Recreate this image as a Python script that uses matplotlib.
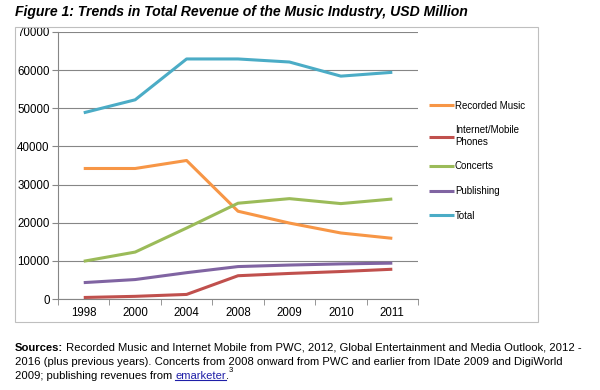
import numpy as np
import matplotlib.pyplot as plt
from matplotlib.patches import Rectangle
from matplotlib.lines import Line2D

plt.rcParams['font.family'] = ['Liberation Sans', 'DejaVu Sans']

years = ['1998', '2000', '2004', '2008', '2009', '2010', '2011']
recorded = [34200, 34200, 36300, 23000, 19900, 17300, 15900]
internet = [400, 700, 1200, 6100, 6700, 7200, 7800]
concerts = [9900, 12300, 18600, 25100, 26300, 25000, 26200]
publishing = [4300, 5100, 6900, 8500, 8900, 9200, 9400]
total = [48800, 52200, 62900, 62900, 62100, 58400, 59400]

series = [('Recorded Music', recorded, '#F79646'),
          ('Internet/Mobile\nPhones', internet, '#C0504D'),
          ('Concerts', concerts, '#9BBB59'),
          ('Publishing', publishing, '#8064A2'),
          ('Total', total, '#4BACC6')]

fig = plt.figure(figsize=(6, 3.9), dpi=100)
ax = fig.add_axes([0.0967, 0.2333, 0.6, 0.685])

x = np.arange(len(years))
for name, vals, col in series:
    ax.plot(x, vals, color=col, lw=2.2, solid_capstyle='butt', label=name)

ax.set_xlim(-0.5, len(years) - 0.5)
ax.set_ylim(0, 70000)
ax.set_yticks(np.arange(0, 70001, 10000))
ax.set_xticks(x)
ax.set_xticklabels(years)
ax.set_xticks(np.arange(-0.5, len(years), 1), minor=True)
ax.tick_params(axis='x', which='major', length=0, labelsize=8.3, pad=6)
ax.tick_params(axis='x', which='minor', length=4, color='#868686', direction='out')
ax.tick_params(axis='y', length=4, color='#868686', labelsize=8.3, pad=2)
ax.grid(axis='y', color='#868686', lw=0.8)
ax.set_axisbelow(True)
for s in ['top', 'right']:
    ax.spines[s].set_visible(False)
for s in ['left', 'bottom']:
    ax.spines[s].set_color('#868686')
    ax.spines[s].set_linewidth(0.8)

leg = ax.legend(loc='upper left', bbox_to_anchor=(1.005, 0.775), frameon=False,
                fontsize=7.0, handlelength=2.6, handletextpad=0.1,
                labelspacing=1.5)

# chart border
fig.patches.append(Rectangle((0.025, 0.174), 0.872, 0.757, transform=fig.transFigure,
                             fill=False, ec='#BFBFBF', lw=0.8))

fig.text(0.025, 0.968, 'Figure 1: Trends in Total Revenue of the Music Industry, USD Million',
         fontsize=10.1, fontweight='bold', fontstyle='italic', va='center')

# sources footnote
fig.canvas.draw()
r = fig.canvas.get_renderer()
fs = 8.1
y1, y2, y3 = 1 - 348 / 390, 1 - 362 / 390, 1 - 376 / 390
t = fig.text(0.025, y1, 'Sources:', fontsize=fs, fontweight='bold', va='center')
bb = t.get_window_extent(r)
fig.text(bb.x1 / 600, y1, ' Recorded Music and Internet Mobile from PWC, 2012, Global Entertainment and Media Outlook, 2012 -',
         fontsize=fs, va='center')
fig.text(0.025, y2, '2016 (plus previous years). Concerts from 2008 onward from PWC and earlier from IDate 2009 and DigiWorld',
         fontsize=fs, va='center')
t = fig.text(0.025, y3, '2009; publishing revenues from ', fontsize=fs, va='center')
bb = t.get_window_extent(r)
t2 = fig.text(bb.x1 / 600, y3, 'emarketer', fontsize=fs, va='center', color='#1F1FA8')
bb2 = t2.get_window_extent(r)
fig.add_artist(Line2D([bb2.x0 / 600, bb2.x1 / 600], [bb2.y0 / 390 + 0.003] * 2,
                      transform=fig.transFigure, color='#1F1FA8', lw=0.8))
t3 = fig.text(bb2.x1 / 600, y3, '.', fontsize=fs, va='center')
bb3 = t3.get_window_extent(r)
fig.text(bb3.x1 / 600, y3 + 0.015, '3', fontsize=5.5, va='center')

fig.savefig('out.png', dpi=100)
